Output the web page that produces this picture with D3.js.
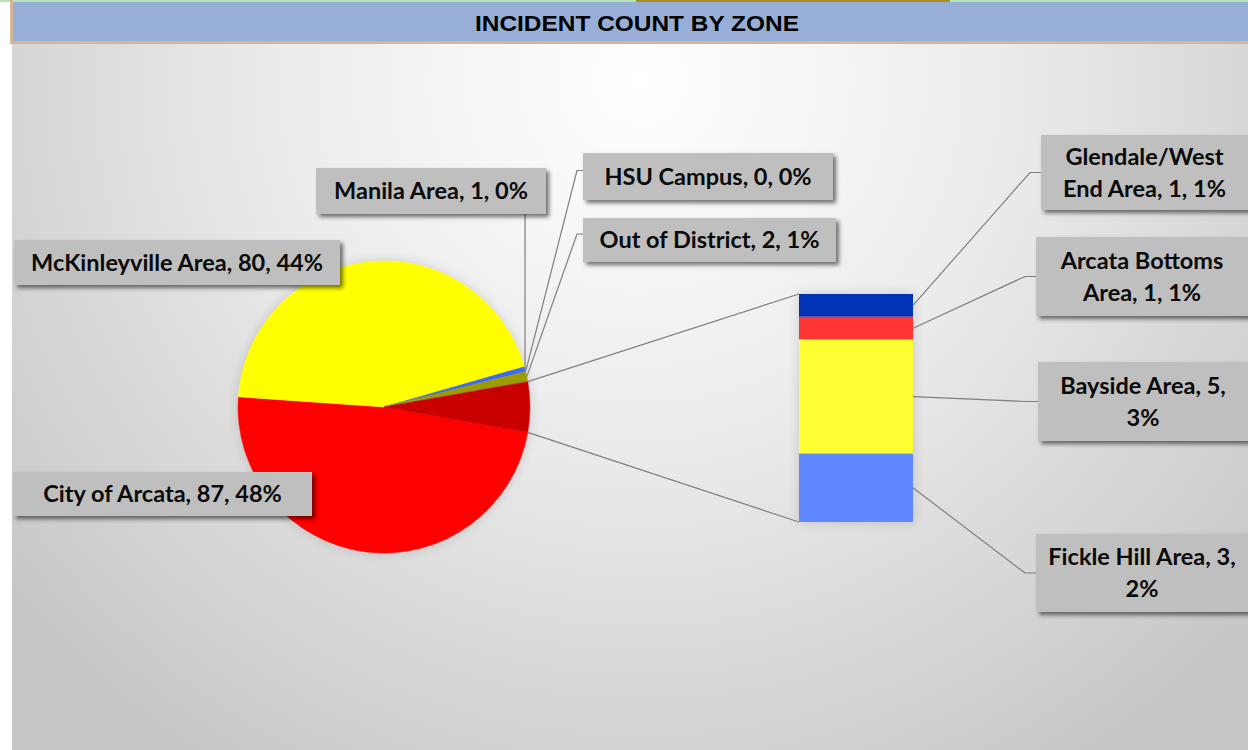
<!DOCTYPE html>
<html>
<head>
<meta charset="utf-8">
<script src="https://cdn.jsdelivr.net/npm/d3@7"></script>
<style>
  html, body { margin: 0; padding: 0; background: #fff; }
  svg { display: block; }
</style>
</head>
<body>
<div id="chart"></div>
<script>
// data
const pieNames = ["City of Arcata", "McKinleyville Area", "Manila Area", "HSU Campus", "Out of District"];
const pieValues = [87, 80, 1, 0, 2];
const piePct = ["48%", "44%", "0%", "0%", "1%"];
const pieColors = ["#FF0000", "#FFFF00", "#3A6BFF", "#7F7F7F", "#9C9C00"];
const otherColor = "#C80000";

const barNames = ["Glendale/West End Area", "Arcata Bottoms Area", "Bayside Area", "Fickle Hill Area"];
const barValues = [1, 1, 5, 3];
const barPct = ["1%", "1%", "3%", "2%"];
const barColors = ["#0033B6", "#FF3535", "#FFFF33", "#5F87FF"];

const title = "INCIDENT COUNT BY ZONE";

const W = 1248, H = 750;
const svg = d3.select("#chart").append("svg").attr("width", W).attr("height", H);
const defs = svg.append("defs");

const bg = defs.append("radialGradient").attr("id", "bg")
  .attr("gradientUnits", "userSpaceOnUse")
  .attr("cx", 640).attr("cy", 80).attr("r", 820);
bg.append("stop").attr("offset", "0%").attr("stop-color", "#FFFFFF");
bg.append("stop").attr("offset", "45%").attr("stop-color", "#EBEBEB");
bg.append("stop").attr("offset", "100%").attr("stop-color", "#C6C6C6");

const sh = defs.append("filter").attr("id", "shadow").attr("x", "-20%").attr("y", "-20%").attr("width", "150%").attr("height", "160%");
sh.append("feDropShadow").attr("dx", 3).attr("dy", 3).attr("stdDeviation", 2)
  .attr("flood-color", "#000").attr("flood-opacity", 0.55);
const sh2 = defs.append("filter").attr("id", "soft").attr("x", "-20%").attr("y", "-20%").attr("width", "140%").attr("height", "140%");
sh2.append("feDropShadow").attr("dx", 0).attr("dy", 0).attr("stdDeviation", 6)
  .attr("flood-color", "#000").attr("flood-opacity", 0.25);

// background & title band
svg.append("rect").attr("x", 12).attr("y", 44).attr("width", W - 12).attr("height", H - 44).attr("fill", "url(#bg)");
svg.append("rect").attr("x", 0).attr("y", 0).attr("width", W).attr("height", 2).attr("fill", "#B5E3B5");
svg.append("rect").attr("x", 636).attr("y", 0).attr("width", 314).attr("height", 2).attr("fill", "#A8901E");
svg.append("rect").attr("x", 12).attr("y", 2).attr("width", W - 12).attr("height", 40).attr("fill", "#97AFD7");
svg.append("rect").attr("x", 12).attr("y", 41).attr("width", W - 12).attr("height", 3).attr("fill", "#D4B896");
svg.append("rect").attr("x", 10).attr("y", 0).attr("width", 3).attr("height", 44).attr("fill", "#D4B896");
svg.append("text").attr("x", 637).attr("y", 31).attr("text-anchor", "middle")
  .attr("font-family", "Liberation Sans, Arial, sans-serif").attr("font-weight", "bold")
  .attr("font-size", 22.5).attr("fill", "#000")
  .attr("textLength", 324).attr("lengthAdjust", "spacingAndGlyphs")
  .text(title);

// pie
const cx = 384, cy = 407, R = 146;
const otherTotal = d3.sum(barValues);
const allValues = pieValues.concat([otherTotal]);
const total = d3.sum(allValues);
const otherAng = 2 * Math.PI * otherTotal / total;
const pie = d3.pie().sort(null).value(d => d)
  .startAngle(Math.PI / 2 + otherAng / 2)
  .endAngle(Math.PI / 2 + otherAng / 2 + 2 * Math.PI);
const arcs = pie(allValues);
const arc = d3.arc().innerRadius(0).outerRadius(R);
const pg = svg.append("g").attr("transform", `translate(${cx},${cy})`);
pg.append("circle").attr("r", R).attr("fill", "#fff").attr("filter", "url(#soft)").attr("opacity", 0.6);
pg.selectAll("path").data(arcs).enter().append("path")
  .attr("d", arc)
  .attr("fill", (d, i) => i < pieColors.length ? pieColors[i] : otherColor)
  .attr("stroke", (d, i) => i < pieColors.length ? pieColors[i] : otherColor)
  .attr("stroke-width", 0.5);

// point on the pie edge for an angle (d3 convention)
const edge = (a) => [cx + R * Math.sin(a), cy - R * Math.cos(a)];

// bar of pie
const bx0 = 799, bx1 = 913;
const y = d3.scaleLinear().domain([0, otherTotal]).range([294, 522]);
const stack = [];
let acc = 0;
barValues.forEach((v, i) => { stack.push({ i, y0: acc, y1: acc + v }); acc += v; });
svg.append("rect").attr("x", bx0).attr("y", y(0)).attr("width", bx1 - bx0).attr("height", y(otherTotal) - y(0))
  .attr("fill", "#fff").attr("filter", "url(#soft)").attr("opacity", 0.6);
svg.append("g").selectAll("rect").data(stack).enter().append("rect")
  .attr("x", bx0).attr("width", bx1 - bx0)
  .attr("y", d => y(d.y0)).attr("height", d => y(d.y1) - y(d.y0))
  .attr("fill", d => barColors[d.i]);

// connector lines pie -> bar
const oArc = arcs[arcs.length - 1];
const pTop = edge(oArc.startAngle), pBot = edge(oArc.endAngle);
const lines = svg.append("g").attr("stroke", "#7F7F7F").attr("stroke-width", 1.2).attr("fill", "none");
lines.append("line").attr("x1", pTop[0]).attr("y1", pTop[1]).attr("x2", bx0).attr("y2", y(0));
lines.append("line").attr("x1", pBot[0]).attr("y1", pBot[1]).attr("x2", bx0).attr("y2", y(otherTotal));

// label layout (box positions)
const pieBoxes = [
  { x: 13, y: 472, w: 299, h: 44 },
  { x: 14, y: 240, w: 326, h: 45 },
  { x: 316, y: 168, w: 230, h: 46 },
  { x: 583, y: 153, w: 250, h: 47 },
  { x: 583, y: 218, w: 253, h: 44 }
];
const barBoxes = [
  { x: 1041, y: 135, w: 220, h: 75 },
  { x: 1036, y: 237, w: 225, h: 79 },
  { x: 1038, y: 362, w: 223, h: 79 },
  { x: 1036, y: 534, w: 225, h: 78 }
];
const barLines = [["Glendale/West", "End Area, 1, 1%"], ["Arcata Bottoms", "Area, 1, 1%"], ["Bayside Area, 5,", "3%"], ["Fickle Hill Area, 3,", "2%"]];

// leader lines for small pie slices
[2, 3, 4].forEach(i => {
  const a = arcs[i];
  const p = edge((a.startAngle + a.endAngle) / 2);
  const b = pieBoxes[i];
  if (i === 2) {
    lines.append("polyline").attr("points", `${p[0]},${b.y + b.h} ${p[0]},${p[1]}`);
  } else {
    const ly = b.y + b.h / 2 - 6;
    lines.append("polyline").attr("points", `${b.x},${ly} ${b.x - 6},${ly} ${p[0]},${p[1]}`);
  }
});
// leader lines for bar segments
stack.forEach(d => {
  const b = barBoxes[d.i];
  const my = y((d.y0 + d.y1) / 2);
  const ly = b.y + b.h / 2;
  lines.append("polyline").attr("points", `${b.x},${ly} ${b.x - 11},${ly} ${bx1},${my}`);
});

const font = "Lato, 'Open Sans', sans-serif";
function drawBox(b, textLines) {
  const g = svg.append("g");
  g.append("rect").attr("x", b.x).attr("y", b.y).attr("width", b.w).attr("height", b.h)
    .attr("fill", "#BFBFBF").attr("filter", "url(#shadow)");
  const lh = 32;
  const tx = b.x + (Math.min(b.x + b.w, W) - b.x) / 2;
  const t0 = b.y + b.h / 2 - (textLines.length - 1) * lh / 2 + 8;
  textLines.forEach((s, k) => {
    g.append("text").attr("x", tx).attr("y", t0 + k * lh).attr("text-anchor", "middle")
      .attr("font-family", font).attr("font-weight", "bold").attr("font-size", 23.5)
      .attr("fill", "#0A0A0A").text(s);
  });
}
pieNames.forEach((n, i) => drawBox(pieBoxes[i], [`${n}, ${pieValues[i]}, ${piePct[i]}`]));
barNames.forEach((n, i) => drawBox(barBoxes[i], barLines[i]));
</script>
</body>
</html>
